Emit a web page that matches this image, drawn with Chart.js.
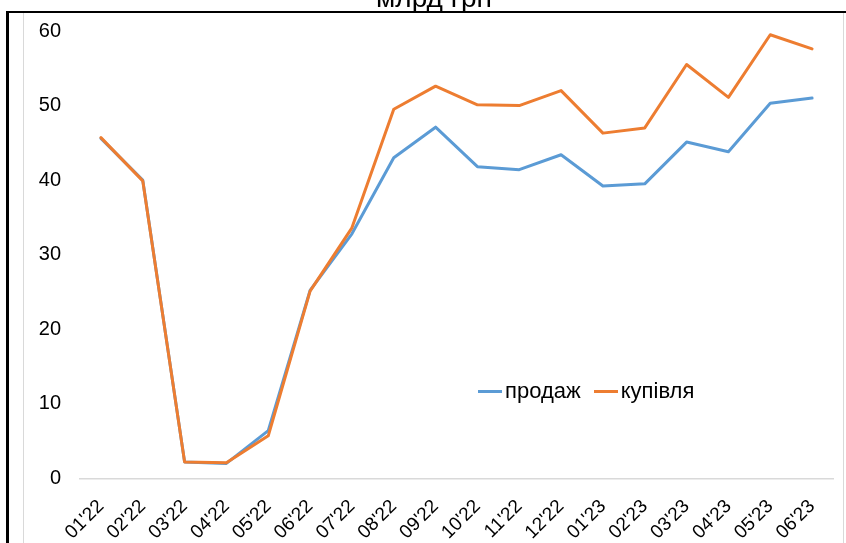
<!DOCTYPE html>
<html>
<head>
<meta charset="utf-8">
<script src="https://cdn.jsdelivr.net/npm/chart.js@4.4.0/dist/chart.umd.min.js"></script>
<style>
    html, body { margin: 0; padding: 0; background: #fff; overflow: hidden; }
    #wrap { position: relative; width: 846px; height: 543px; }
    #chart { position: absolute; left: 0; top: 0; }
    .line { position: absolute; }
    #title {
        position: absolute; left: 0; width: 868px; top: -16px;
        text-align: center; font: 28px "Liberation Sans", Arial, sans-serif;
        line-height: 27px; color: #000;
    }
    #legend {
        position: absolute; left: 478px; top: 378px;
        font: 22px "Liberation Sans", Arial, sans-serif; color: #000;
        display: flex; align-items: center; white-space: nowrap;
    }
    #legend .item { display: flex; align-items: center; margin-right: 13px; }
    #legend .swatch { width: 24px; height: 3px; margin-right: 3px; }
</style>
</head>
<body>
<div id="wrap">
    <canvas id="chart" width="846" height="543"></canvas>
    <div id="title">млрд грн</div>
    <!-- frame lines round the chart -->
    <div class="line" style="left:6px; top:11px; width:840px; height:2px; background:#000;"></div>
    <div class="line" style="left:6px; top:11px; width:3px; height:532px; background:#000;"></div>
    <div class="line" style="left:23px; top:13px; width:1px; height:530px; background:#d9d9d9;"></div>
    <div class="line" style="left:843px; top:13px; width:1px; height:530px; background:#d9d9d9;"></div>
    <div id="legend"></div>
</div>
<script>
// ---------------- Data ----------------
const months = ["01'22","02'22","03'22","04'22","05'22","06'22","07'22","08'22","09'22",
                "10'22","11'22","12'22","01'23","02'23","03'23","04'23","05'23","06'23"];
const sales = [45.6, 40.0, 2.2, 2.0, 6.4, 25.2, 32.8, 43.0, 47.1,
               41.8, 41.4, 43.4, 39.2, 39.5, 45.1, 43.8, 50.3, 51.0];
const purchases = [45.7, 39.9, 2.2, 2.1, 5.7, 25.1, 33.6, 49.5, 52.6,
                   50.1, 50.0, 52.0, 46.3, 47.0, 55.5, 51.1, 59.5, 57.6];
const yTicks = [0, 10, 20, 30, 40, 50, 60];

const FONT = "'Liberation Sans', Arial, sans-serif";

// ---------------- Chart ----------------
const ctx = document.getElementById("chart").getContext("2d");
const chart = new Chart(ctx, {
    type: 'line',
    data: {
        labels: months,
        datasets: [
            { label: 'продаж', data: sales, borderColor: '#5B9BD5', backgroundColor: '#5B9BD5', order: 1 },
            { label: 'купівля', data: purchases, borderColor: '#ED7D31', backgroundColor: '#ED7D31', order: 0 }
        ]
    },
    options: {
        responsive: false,
        animation: false,
        layout: { padding: { top: 29.5, right: 13, left: 0, bottom: 0 } },
        elements: {
            line: { borderWidth: 3, tension: 0, borderCapStyle: 'round', borderJoinStyle: 'round' },
            point: { radius: 0, hoverRadius: 0 }
        },
        plugins: { legend: { display: false }, tooltip: { enabled: false } },
        scales: {
            x: {
                offset: true,
                grid: { display: false, drawTicks: false },
                border: { display: true, color: '#d9d9d9', width: 1.5 },
                ticks: { color: '#000', font: { family: FONT, size: 19 }, maxRotation: 45, minRotation: 45, padding: 17, autoSkip: false },
                afterFit: (s) => { s.height = 64.7; }
            },
            y: {
                min: 0, max: 60,
                grid: { display: false, drawTicks: false },
                border: { display: false },
                afterBuildTicks: (s) => { s.ticks = yTicks.map(v => ({ value: v })); },
                ticks: { color: '#000', font: { family: FONT, size: 20 }, padding: 19 },
                afterFit: (s) => { s.width = 80; }
            }
        }
    }
});

// ---------------- Legend (inside plot) ----------------
const legend = document.getElementById("legend");
chart.data.datasets.forEach(ds => {
    const item = document.createElement("div");
    item.className = "item";
    const sw = document.createElement("span");
    sw.className = "swatch";
    sw.style.background = ds.borderColor;
    const txt = document.createElement("span");
    txt.innerText = ds.label;
    item.appendChild(sw);
    item.appendChild(txt);
    legend.appendChild(item);
});
</script>
</body>
</html>
